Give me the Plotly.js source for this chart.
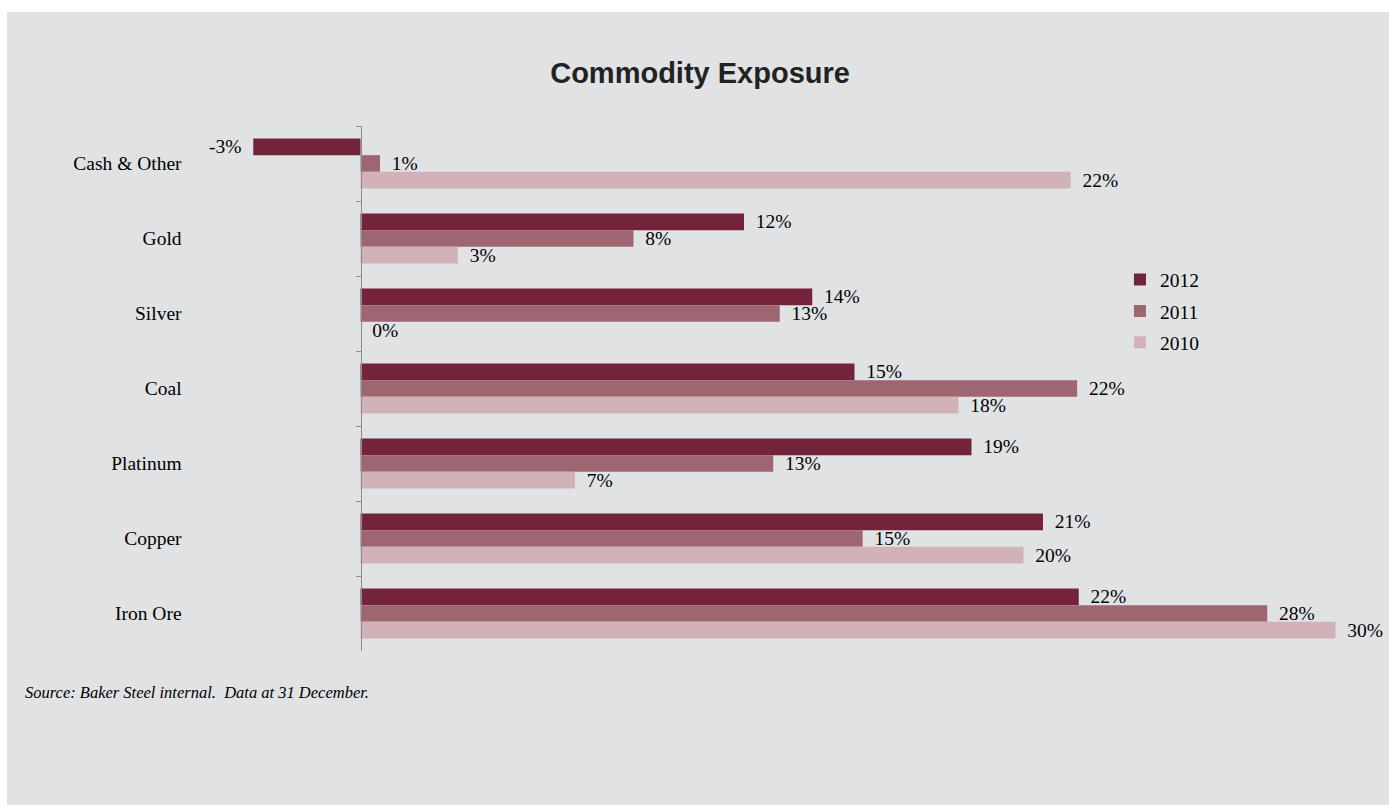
<!DOCTYPE html>
<html>
<head>
<meta charset="utf-8">
<script src="https://cdn.plot.ly/plotly-3.0.1.min.js"></script>
<style>
  html, body { margin: 0; padding: 0; background: #ffffff; }
  #chart { position: absolute; left: 7px; top: 12px; width: 1382px; height: 793px; }
</style>
</head>
<body>
<div id="chart"></div>
<script>
// Categories, top to bottom
const categories = ["Cash & Other", "Gold", "Silver", "Coal", "Platinum", "Copper", "Iron Ore"];
// Series values (% exposure)
const values2012 = [-3.3, 11.8, 13.9, 15.2, 18.8, 21.0, 22.1];
const values2011 = [0.6, 8.4, 12.9, 22.05, 12.7, 15.45, 27.9];
const values2010 = [21.85, 3.0, 0.0, 18.4, 6.6, 20.4, 30.0];
const seriesNames = ["2012", "2011", "2010"];
const seriesColors = ["#74243a", "#9e6671", "#d2b2b9"];

const GAP = "\u00a0\u2009";
function labels(vals) {
  return vals.map(v => {
    const s = Math.round(v) + "%";
    return v < 0 ? s + GAP : GAP + s;
  });
}

const serif = "Liberation Serif, Times New Roman, serif";
const seriesValues = [values2012, values2011, values2010];

const traces = seriesValues.map((vals, i) => ({
  type: "bar",
  orientation: "h",
  name: seriesNames[i],
  legendgroup: seriesNames[i],
  y: categories,
  x: vals,
  marker: { color: seriesColors[i], line: { width: 0 } },
  text: labels(vals),
  textposition: "outside",
  textfont: { family: serif, size: 19.5, color: "#000000" },
  constraintext: "none",
  cliponaxis: false,
  hoverinfo: "x+y+name"
}));

const layout = {
  width: 1382,
  height: 793,
  paper_bgcolor: "#e1e2e4",
  plot_bgcolor: "#e1e2e4",
  margin: { l: 191, r: 21, t: 114, b: 154, pad: 0 },
  barmode: "group",
  bargap: 0.333,
  bargroupgap: 0,
  title: {
    text: "Commodity Exposure",
    font: { family: "Liberation Sans, Arial, sans-serif", size: 29, color: "#222222", weight: "bold" },
    x: 0.5015, xanchor: "center",
    y: 0.923, yanchor: "middle"
  },
  xaxis: {
    range: [-5, 31],
    visible: false,
    fixedrange: true
  },
  yaxis: {
    type: "category",
    categoryorder: "array",
    categoryarray: categories,
    autorange: "reversed",
    anchor: "free",
    position: 0.13889,
    showline: true,
    linecolor: "#8c8c8c",
    linewidth: 1,
    ticks: "outside",
    ticklen: 5,
    tickcolor: "#8c8c8c",
    tickwidth: 1,
    tickson: "boundaries",
    showgrid: false,
    zeroline: false,
    ticklabelstandoff: 175,
    tickfont: { family: serif, size: 19.5, color: "#000000" },
    fixedrange: true
  },
  legend: {
    x: 0.788, xanchor: "left",
    y: 0.744, yanchor: "top",
    bgcolor: "rgba(0,0,0,0)",
    font: { family: serif, size: 19.5, color: "#000000" },
    tracegroupgap: 3,
    traceorder: "grouped"
  },
  annotations: [{
    text: "<i>Source: Baker Steel internal.\u00a0 Data at 31 December.</i>",
    xref: "paper", yref: "paper",
    x: -0.1496, y: -0.0781,
    xanchor: "left", yanchor: "middle",
    showarrow: false,
    font: { family: serif, size: 16.5, color: "#000000" }
  }],
  showlegend: true
};

Plotly.newPlot("chart", traces, layout, { displayModeBar: false, staticPlot: true });
</script>
</body>
</html>
